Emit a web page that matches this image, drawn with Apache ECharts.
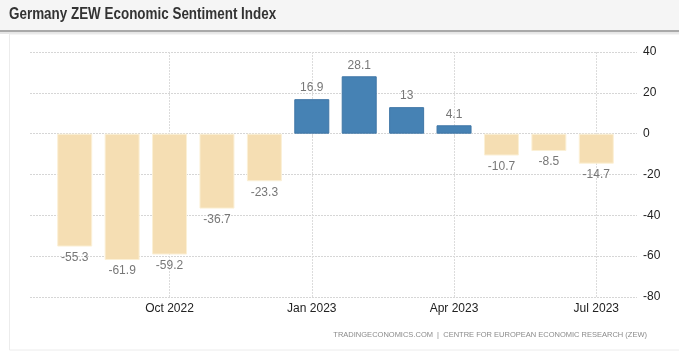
<!DOCTYPE html>
<html>
<head>
<meta charset="utf-8">
<style>
  html, body { margin: 0; padding: 0; background: #ffffff; }
  #chart { width: 679px; height: 360px; }
</style>
<script src="https://cdn.jsdelivr.net/npm/echarts@6/dist/echarts.min.js"></script>
</head>
<body>
<div id="chart"></div>
<script>
const categories = ['Aug 2022','Sep 2022','Oct 2022','Nov 2022','Dec 2022','Jan 2023','Feb 2023','Mar 2023','Apr 2023','May 2023','Jun 2023','Jul 2023'];
const values = [-55.3, -61.9, -59.2, -36.7, -23.3, 16.9, 28.1, 13, 4.1, -10.7, -8.5, -14.7];
const yTicks = { min: -80, max: 40, interval: 20 };
const verticalLineCats = ['Oct 2022', 'Jan 2023', 'Apr 2023', 'Jul 2023'];
const titleText = 'Germany ZEW Economic Sentiment Index';
const sourceText = 'TRADINGECONOMICS.COM  |  CENTRE FOR EUROPEAN ECONOMIC RESEARCH (ZEW)';

const chart = echarts.init(document.getElementById('chart'), null, { renderer: 'canvas' });

const showIdx = (i) => i % 3 === 2;

const barData = values.map(v => ({
  value: v,
  itemStyle: v >= 0
    ? { color: '#4682b4', borderColor: '#3f76a6', borderWidth: 1 }
    : { color: '#f5deb3', borderColor: '#fbf0d6', borderWidth: 1 },
  label: { position: v >= 0 ? 'top' : 'bottom' }
}));

chart.setOption({
  animation: false,
  graphic: [
    { type: 'rect', z: -10, shape: { x: 0, y: 0, width: 679, height: 31 }, style: { fill: '#f5f5f5' } },
    { type: 'rect', z: -9, shape: { x: 0, y: 30, width: 679, height: 2 }, style: { fill: '#a9a9a9' } },
    { type: 'rect', z: -9, shape: { x: 0, y: 32, width: 679, height: 2 }, style: { fill: '#e6e6e6' } },
    { type: 'rect', z: -9, shape: { x: 9.5, y: 34, width: 680, height: 316 }, style: { fill: '#ffffff', stroke: '#ececec', lineWidth: 1 } },
    { type: 'text', x: 9, y: 14, scaleX: 0.79, z: 10,
      style: { text: titleText, fill: '#333333', font: 'bold 17px "Liberation Sans", Arial', textVerticalAlign: 'middle', verticalAlign: 'middle' } },
    { type: 'text', right: 32, top: 331, style: { text: sourceText, fill: '#8a8a8a', font: '7.5px "Liberation Sans", Arial' } }
  ],
  grid: [
    { left: 30, right: 42, top: 52, bottom: 63 },
    { left: 51, right: 59, top: 52, bottom: 63 }
  ],
  xAxis: [
    { type: 'category', gridIndex: 0, data: categories, show: false },
    {
      type: 'category', gridIndex: 1, data: categories,
      axisLine: { show: false },
      axisTick: { show: true, alignWithLabel: true, interval: showIdx, length: 4, lineStyle: { color: '#d9d9d9' } },
      axisLabel: { interval: showIdx, color: '#222222', fontSize: 12, fontFamily: 'Liberation Sans, Arial', margin: 6 },
      splitLine: { show: false }
    }
  ],
  yAxis: [
    {
      type: 'value', gridIndex: 0, position: 'right',
      min: yTicks.min, max: yTicks.max, interval: yTicks.interval,
      axisLine: { show: false }, axisTick: { show: false },
      axisLabel: { color: '#222222', fontSize: 12, fontFamily: 'Liberation Sans, Arial', margin: 6, align: 'left' },
      splitLine: { lineStyle: { color: '#d6d6d6', type: [2, 1], width: 1 } }
    },
    {
      type: 'value', gridIndex: 1, min: yTicks.min, max: yTicks.max, interval: yTicks.interval,
      show: false, splitLine: { show: false }
    }
  ],
  series: [{
    type: 'bar',
    xAxisIndex: 1, yAxisIndex: 1,
    data: barData,
    barWidth: 35,
    label: {
      show: true, distance: 5, color: '#777777', fontSize: 12, fontFamily: 'Liberation Sans, Arial',
      formatter: (p) => String(p.value)
    },
    markLine: {
      silent: true,
      symbol: ['none', 'none'],
      label: { show: false },
      z: 0,
      lineStyle: { color: '#dcdcdc', type: [2, 1], width: 1 },
      data: verticalLineCats.map(c => ({ xAxis: c }))
    }
  }]
});
</script>
</body>
</html>
